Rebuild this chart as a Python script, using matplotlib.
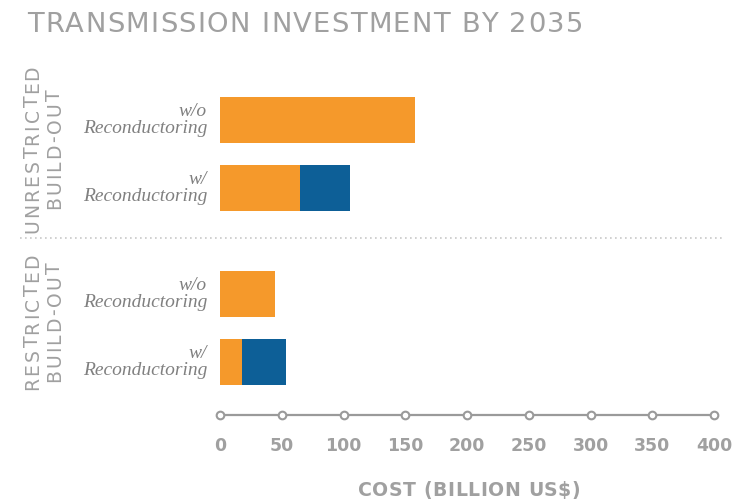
import matplotlib.pyplot as plt
from matplotlib.lines import Line2D
from matplotlib.font_manager import FontProperties

groups = ["UNRESTRICTED\nBUILD-OUT", "RESTRICTED\nBUILD-OUT"]
items = ["w/o\nReconductoring", "w/\nReconductoring"]
# [group][item]
base_cost = [[158, 65], [44.5, 18]]
reconductor_cost = [[0, 40], [0, 35.5]]
xticks = [0, 50, 100, 150, 200, 250, 300, 350, 400]
title = "TRANSMISSION INVESTMENT BY 2035"
xlabel = "COST (BILLION US$)"

ORANGE = "#F5992B"
BLUE = "#0D5F97"

W, H = 736, 499
fig = plt.figure(figsize=(W / 100, H / 100), dpi=100)
renderer = fig.canvas.get_renderer()


def char_widths(s, fp):
    ws = []
    for ch in s:
        if ch == " ":
            t1 = fig.text(0, 0, "I I", fontproperties=fp)
            t2 = fig.text(0, 0, "II", fontproperties=fp)
            w = t1.get_window_extent(renderer).width - t2.get_window_extent(renderer).width
            t1.remove(); t2.remove()
        else:
            t = fig.text(0, 0, ch, fontproperties=fp)
            w = t.get_window_extent(renderer).width
            t.remove()
        ws.append(w)
    return ws


def tracking_for(s, fp, target):
    ws = char_widths(s, fp)
    return (target - sum(ws)) / (len(s) - 1)


def spaced_h(x_left, y_base, s, fp, track, color, ha="left"):
    ws = char_widths(s, fp)
    total = sum(ws) + track * (len(s) - 1)
    x = x_left if ha == "left" else x_left - total / 2
    for ch, w in zip(s, ws):
        if ch != " ":
            fig.text(x / W, 1 - y_base / H, ch, fontproperties=fp, color=color,
                     ha="left", va="baseline")
        x += w + track


def spaced_v(x_c, y_c, s, fp, track, color):
    # text reads bottom to top, centred on (x_c, y_c) in pixels from top-left
    ws = char_widths(s, fp)
    total = sum(ws) + track * (len(s) - 1)
    y = (H - y_c) - total / 2
    for ch, w in zip(s, ws):
        if ch != " ":
            fig.text(x_c / W, (y + w / 2) / H, ch, fontproperties=fp, color=color,
                     rotation=90, rotation_mode="anchor", ha="center", va="center")
        y += w + track


ax_left, ax_right, ax_top, ax_bot = 220, 714, 85, 415
ax = fig.add_axes([ax_left / W, 1 - ax_bot / H, (ax_right - ax_left) / W, (ax_bot - ax_top) / H])

item_step = 1.0
group_step = 2.58
bar_h = 0.68

for g in range(len(groups)):
    for i in range(len(items)):
        y = g * group_step + i * item_step
        b = base_cost[g][i]
        r = reconductor_cost[g][i]
        ax.barh(y, b, height=bar_h, color=ORANGE)
        if r > 0:
            ax.barh(y, r, left=b, height=bar_h, color=BLUE)

ax.set_xlim(0, 400)
ax.set_ylim(4.37, -0.52)
for s in ax.spines.values():
    s.set_visible(False)
ax.set_xticks([])
ax.set_yticks([])

# axis line with open circle ticks
ylow = ax.get_ylim()[0]
ax.plot([xticks[0], xticks[-1]], [ylow, ylow], color="#9a9a9a", lw=1.6, clip_on=False, zorder=3)
ax.plot(xticks, [ylow] * len(xticks), ls="none", marker="o", ms=5.5, mfc="white",
        mec="#9a9a9a", mew=1.5, clip_on=False, zorder=4)
for t in xticks:
    ax.text(t, ylow + 0.46, str(t), ha="center", va="center", fontsize=12.5,
            fontweight="bold", color="#a0a0a0", family="DejaVu Sans", clip_on=False)

fp_xl = FontProperties(family="DejaVu Sans", weight="bold", size=13.6)
tr = tracking_for(xlabel, fp_xl, 222)
spaced_h(469, 496, xlabel, fp_xl, tr, "#a0a0a0", ha="center")

# category labels
for g in range(len(groups)):
    for i in range(len(items)):
        y = g * group_step + i * item_step
        ax.text(-13 / 1.235, y, items[i], ha="right", va="center", fontsize=14,
                fontstyle="italic", family="Liberation Serif", color="#808080",
                linespacing=1.0, clip_on=False)

# group labels (letter-spaced, rotated)
fp_g = FontProperties(family="DejaVu Sans", size=13.5)
tr_g = tracking_for("UNRESTRICTED", fp_g, 168)
group_centres = [149, 322]
for g, lab in enumerate(groups):
    lines = lab.split("\n")
    spaced_v(33, group_centres[g], lines[0], fp_g, tr_g, "#a0a0a0")
    spaced_v(55, group_centres[g], lines[1], fp_g, tr_g, "#a0a0a0")

# dotted separator
fig.add_artist(Line2D([20 / W, 722 / W], [1 - 238 / H, 1 - 238 / H], transform=fig.transFigure,
                      color="#c8c8c8", lw=1.2, ls=(0, (1, 2))))

fp_t = FontProperties(family="DejaVu Sans", size=19.7)
tr_t = tracking_for(title, fp_t, 556)
spaced_h(27, 32, title, fp_t, tr_t, "#a0a0a0")

fig.savefig("out.png", dpi=100, facecolor="white")
